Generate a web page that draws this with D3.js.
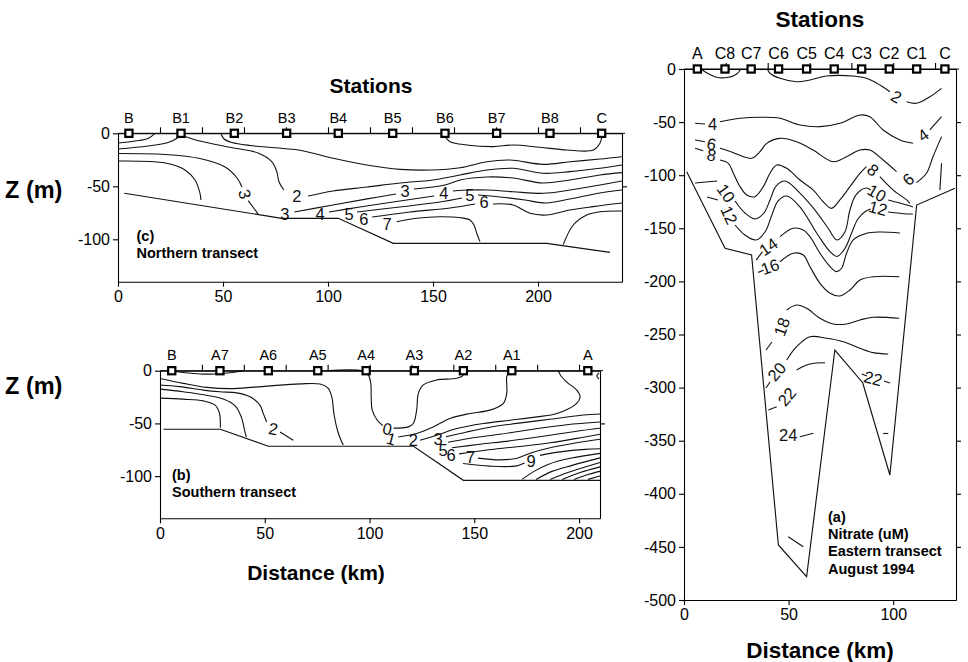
<!DOCTYPE html>
<html>
<head>
<meta charset="utf-8">
<script src="https://cdn.jsdelivr.net/npm/d3@7"></script>
<style>
  body { margin: 0; background: #fff; }
  svg { display: block; font-family: Arial, "Liberation Sans", sans-serif; }
</style>
</head>
<body>
<div id="chart"></div>
<script>
// ---- Panel (a): eastern transect, nitrate (uM), distance km / depth m
const stationsA = ["A", "C8", "C7", "C6", "C5", "C4", "C3", "C2", "C1", "C"];
const stationKmA = [6.4, 19.6, 32.1, 45.2, 58.6, 71.8, 84.9, 98.1, 111.2, 124.7];
const bottomA = [[1.3, -96.7], [19.6, -168.8], [32.3, -175.1], [45.1, -448.2], [58.6, -478.1],
  [72.1, -264.6], [85.4, -295.4], [98.4, -382.3], [111.2, -128.1], [129.5, -112.3]];
const contoursA = [
  [[8, 0], [10, -2.5], [15.6, -7.8], [21.2, -7.8], [25.2, -4.7], [27.2, 0]],
  [[39.8, 0], [41.1, -4], [45.9, -8.8], [53.8, -12], [60.2, -10.4], [68.1, -6.6], [80.8, -6.6], [87.2, -8.8], [93.6, -15.1], [98.4, -21.4]],
  [[106.4, -30.8], [111.1, -32.3], [117.5, -26.1], [123.1, -18.2]],
  [[5.3, -51.1], [10, -51.8]],
  [[17.2, -49.6], [26.8, -46.4], [36.3, -45.5], [45.9, -46.4], [55.4, -52.7], [65, -54.3], [74.5, -51.1], [84.1, -43.3], [88.8, -44.9], [95.2, -57.4], [103.2, -66.8], [109.5, -69.9]],
  [[117.5, -57.4], [123.1, -44.9]],
  [[5.3, -66.9], [10, -68.5]],
  [[17.2, -74.7], [23.6, -78.8], [28.4, -82.6], [32.4, -84.1], [36.3, -77.9], [39.5, -70], [45.9, -65.3], [53.8, -68.5], [61.7, -76.3], [71.3, -87.3], [77.7, -82.6], [84.1, -76.3], [88.8, -76.3], [95.2, -85.7], [101.6, -96.7]],
  [[111.1, -107], [115.9, -98.2], [119, -82.6], [123.1, -63.7]],
  [[5.3, -74.7], [9.2, -76.9]],
  [[17.2, -85.7], [21.2, -88.8], [23.6, -98.2], [26.8, -110.8], [30, -118.6], [33.9, -120.2], [37.9, -110.8], [41.1, -98.2], [44.3, -90.4], [49.1, -93.5], [55.4, -104.5], [61.7, -113.9], [66.5, -124.9], [70.5, -131.2], [74.5, -123.3], [79.3, -110.8], [84.1, -98.2], [87.2, -91.9]],
  [[93.6, -101.4], [100, -114], [106.4, -123.3], [108, -126.5]],
  [[5.3, -107.3], [15.8, -105.5]],
  [[24.4, -124.3], [29.1, -135.6], [33.9, -141.2], [38.2, -135.6], [41.1, -123.4], [44, -110.2], [48.3, -105.5], [55.4, -116.8], [62.6, -132.8], [68.8, -149.7], [73.1, -161], [76.9, -153.5], [79.3, -132.8], [82.2, -118.6], [87, -112.1], [89.3, -113.9]],
  [[97.6, -123.4], [106.5, -128.1], [109.4, -129.9]],
  [[11, -120.5], [16.2, -123.4]],
  [[24.4, -146.9], [29.1, -156.3], [34.4, -161], [38.7, -153.5], [42, -137.5], [44.9, -124.3], [49.2, -119.6], [55.4, -129.9], [64, -156.3], [69.8, -172], [73.1, -176.5], [76.9, -169], [80.3, -153.5], [83.1, -141.2], [87, -133.7], [89.3, -131.8]],
  [[97.6, -134.7], [106.5, -136.5], [109.4, -136.5]],
  [[34.5, -180], [37.5, -172]],
  [[45.9, -157.9], [52.2, -150], [57, -151.6], [60.2, -157.9], [65, -173.5], [69.8, -186.1], [73, -190.8], [75.3, -187.6], [77.7, -173.5], [80.9, -161], [87.3, -154.7], [93.6, -153.5], [103.2, -154.4]],
  [[35.5, -191.5], [38, -189.5]],
  [[45.9, -181.5], [52.2, -173.5], [57, -175.1], [60.2, -186.1], [65, -201.8], [69.8, -211.2], [74.5, -213.7], [79.3, -208.1], [84.1, -198.7], [90.4, -195.6], [102.9, -195.6]],
  [[39.2, -264.6], [42, -257.1]],
  [[49.1, -226.9], [53.8, -222.2], [58.6, -225.3], [65, -234.7], [71.3, -240.1], [77.7, -240.1], [84.1, -236.3], [90.4, -233.8], [102.9, -234.7]],
  [[39.2, -300.4], [41.1, -294.7]],
  [[49.1, -274], [53.8, -261.5], [60.2, -252.1], [68.2, -253.6], [76.1, -256.8], [84.1, -263], [90.4, -267.1], [97.6, -268.4]],
  [[40.3, -321.1], [44.3, -318]],
  [[53.8, -283.4], [60.2, -277.8], [67.4, -276.6]],
  [[85, -287.2], [87.4, -289.1]],
  [[95.6, -293.8], [98.5, -295.7]],
  [[55.4, -346.2], [61.8, -343]],
  [[95.2, -343.2], [97.6, -343.2]],
  [[49.8, -440.4], [57, -449.8]],
  [[123.1, -88.8], [122.3, -113.9]]
];
const labelsA = [["2", 101.6, -26.1], ["4", 13.7, -51.8], ["4", 114.3, -62.1], ["6", 13.2, -70.6],
  ["6", 107.1, -103.9], ["8", 13.2, -81], ["8", 90.4, -95.1], ["10", 20.1, -116.8], ["10", 92.2, -116.8],
  ["12", 21.6, -137.5], ["12", 92.7, -130.9], ["14", 40.3, -167.3], ["16", 41.1, -186.1], ["18", 46.7, -242.7],
  ["20", 44.3, -285], ["22", 49.1, -308.6], ["22", 90.4, -291.2], ["24", 49.8, -344.6]];
const depthTicksA = [0, -50, -100, -150, -200, -250, -300, -350, -400, -450, -500];
const distTicksA = [0, 50, 100];
const topTicksA = [20, 40, 60, 80, 100, 120];

// ---- Panel (b): southern transect
const stationsB = ["B", "A7", "A6", "A5", "A4", "A3", "A2", "A1", "A"];
const stationKmB = [5.6, 28.6, 51.7, 75.3, 98.4, 121.4, 144.8, 167.9, 204.2];
const bottomB = [[1.6, -55.5], [28.8, -55.5], [51.7, -71.7], [121, -71.7], [144.8, -104], [210, -104]];
const contoursB = [
  [[5.6, 0], [8, -1], [19.1, -3.1], [26.3, -3.1], [33.4, -1.9], [39.8, 0]],
  [[0, -7.4], [11.1, -12], [22.3, -15.8], [35, -17], [50.9, -14.6], [66.8, -12.5], [76.4, -12.7], [80.2, -16.5], [82, -24.8], [83, -40.6], [84.7, -56.5], [86.6, -67], [87.5, -70.5]],
  [[0, -13.5], [9.5, -15.1], [20.7, -18.4], [28.6, -20], [36.6, -21], [43, -24.8], [47.7, -32.7], [49.3, -40.7], [50.9, -48.7]],
  [[57.3, -58.1], [63.6, -66]],
  [[0, -17.5], [11, -20], [20, -22.5], [30.5, -27], [36, -33.5], [39, -45], [40.3, -56], [41.2, -63]],
  [[0, -26], [11, -27], [20.7, -28.6], [26.3, -32.7], [28.4, -40.6], [28.8, -54]],
  [[79.6, 0], [97, -0.3], [99.4, -4], [100.6, -12], [100.8, -24.8], [101.3, -37.4], [103.7, -47], [106.3, -52]],
  [[111.5, -54.5], [118.5, -53.3], [120.9, -50.1], [122.5, -37.4], [123.3, -21.5], [125.7, -13.5], [132, -8.8], [141.6, -7.2], [144.8, -4], [144.8, 0]],
  [[113.7, -62.9], [122.5, -59.6], [130.4, -53.3], [138.4, -45.3], [148, -40.6], [157.5, -37.4], [163.9, -31], [165.5, -21.5], [165.5, -5.7], [166.7, 0]],
  [[124.1, -66], [132.1, -61.2], [141.6, -54.9], [154.3, -50.1], [167.1, -47], [179.8, -43.8], [189.4, -40.6], [198.9, -31], [200.5, -24.8], [198.9, -18.4], [194.7, -11.7], [191.4, -5], [190.1, 0]],
  [[136.5, -62.7], [146.4, -58.1], [157.5, -53.6], [170.3, -50], [186.2, -46], [202.1, -42], [210, -41]],
  [[137.5, -67.9], [148, -64.1], [162.3, -60.3], [178, -55.5], [194.1, -51.2], [210, -48.6]],
  [[139.4, -73.1], [152.7, -69.8], [167.1, -66.5], [183, -62.2], [198.9, -57.4], [210, -54.6]],
  [[142.7, -78.9], [155.1, -75.5], [170.3, -72.2], [186.2, -68.4], [202.1, -63.1], [210, -60.3]],
  [[151.8, -82.9], [162.3, -84.6], [170.5, -83], [177, -78], [186.2, -73.1], [198.9, -68.4], [210, -65]],
  [[144.6, -88], [157.5, -90.5], [169.5, -90.5], [174, -87.5]],
  [[181.4, -80.3], [190.9, -77], [202.9, -74.6], [210, -74.1]],
  [[172.8, -103.1], [178.5, -95.5], [185.2, -88.9], [195.7, -83.1], [210, -78.4]],
  [[179.5, -103.1], [187.1, -95.5], [196.7, -89.8], [210, -82.7]],
  [[186.2, -103.1], [194.7, -96.5], [210, -87]],
  [[191.9, -103.1], [200.5, -96.5], [210, -91.2]],
  [[197.6, -103.1], [204.3, -98.4], [210, -95.5]],
  [[204.3, -103.1], [210, -99.8]],
  [[209.5, -2], [208.5, -5], [209.5, -8]]
];
const labelsB = [["2", 54.1, -54.9], ["0", 108.5, -54.9], ["1", 110.3, -64.6], ["2", 120.9, -66],
  ["3", 132.7, -65], ["5", 135.1, -75], ["6", 138.9, -80.3], ["7", 148.2, -81.9], ["9", 177.1, -85.5]];
const depthTicksB = [0, -50, -100];
const distTicksB = [0, 50, 100, 150, 200];
const topTicksB = [20, 40, 60, 80, 100, 120, 140, 160, 180, 200];

// ---- Panel (c): northern transect
const stationsC = ["B", "B1", "B2", "B3", "B4", "B5", "B6", "B7", "B8", "C"];
const stationKmC = [5.2, 30, 55.4, 80.3, 104.9, 130.8, 155.7, 180.3, 205.7, 230.3];
const bottomC = [[3, -56.6], [78, -80.2], [104.9, -80.2], [131.1, -103.8], [204.1, -103.8], [234.3, -112.3]];
const contoursC = [
  [[0, -9.2], [8.1, -7.3], [14.3, -4.9], [17.6, 0]],
  [[0, -14.8], [14.3, -12], [23.8, -8.7], [28.6, -4], [30, -0.7]],
  [[0, -19.1], [22.4, -20], [39, -23.8], [51, -31.8], [56.7, -42.2], [59, -50.7]],
  [[62, -63.5], [66.7, -76]],
  [[0, -26.1], [15.2, -26.6], [24.8, -29], [31.9, -34.6], [36.7, -44], [39, -56.3], [39.5, -62.9]],
  [[49, 0], [50.5, -5.4], [54.3, -8.7], [62.9, -11.5], [74.8, -13.7], [86.7, -16], [102.5, -23.6], [118.4, -29.9], [134.3, -34], [149.2, -34.6], [162.9, -32.5], [175.6, -26.8], [186.7, -25.2], [202.5, -29.3], [215.2, -26.8], [229.5, -24.3], [239.9, -22.1]],
  [[155.7, -3.2], [158.1, -7.9], [166, -11], [178.7, -12.6], [188.2, -11], [200.9, -13.2], [213.7, -15.8], [226.3, -15.8], [229.5, -9.4], [230.5, -2.5]],
  [[31, -2.5], [39, -7.3], [52.4, -12.9], [66.7, -18.6], [73.2, -26.8], [75.6, -36.2], [76.7, -45.9], [79, -53.5]],
  [[90.5, -59.2], [102.4, -54.4], [118.6, -50.7], [134.3, -46.9], [150, -44], [162.9, -39.3], [175.7, -34.6], [188.1, -33], [202.4, -37.7], [215.2, -36.2], [229.5, -33], [240, -29.9]],
  [[84, -74.2], [102.4, -67.6], [118.6, -61.9], [132.4, -57.3]],
  [[140.9, -52.5], [155.7, -48.8], [162.9, -44], [175.7, -41.2], [188.1, -42.2], [202.4, -46.9], [215.2, -44], [229.5, -39.3], [240, -37.1]],
  [[100.5, -74.2], [115.2, -69.5], [134.3, -63.9], [150.5, -59.2]],
  [[159.5, -54.4], [167.6, -53.5], [175.7, -53.5], [188.1, -55.1], [202.4, -56.6], [215.2, -53.5], [229.5, -48.8], [240, -45]],
  [[113.8, -74.2], [134.3, -69.5], [153.3, -64.8], [163.8, -61]],
  [[171.4, -58.2], [181.9, -60.1], [193.8, -62.9], [203.8, -65.8], [215.2, -62], [229.5, -56.3], [240, -53.5]],
  [[121, -79], [139, -74.2], [158.1, -70.5], [170, -66.7]],
  [[178.6, -66.7], [188.1, -67.6], [196.2, -75.5], [204.1, -77.1], [215.2, -72.4], [226.2, -69.2], [240, -65.8]],
  [[132.7, -83.4], [142.2, -80.2], [153.3, -78.7], [162.9, -79.6], [167.6, -81.8], [169.5, -86.5], [171.1, -95.9], [172.4, -102.2]],
  [[212, -105], [216.8, -86.5], [223.2, -77.1], [229.5, -74], [239.9, -73.3]]
];
const labelsC = [["3", 60.5, -57.3], ["2", 85.2, -59.2], ["3", 79.5, -76.1], ["4", 96.2, -76.1],
  ["5", 110, -76.1], ["6", 117.1, -80.8], ["7", 128.1, -85.6], ["3", 136.7, -54.4], ["4", 155.2, -56.3],
  ["5", 167.6, -58.2], ["6", 174.3, -64.8]];
const depthTicksC = [0, -50, -100];
const distTicksC = [0, 50, 100, 150, 200];
const topTicksC = [20, 40, 60, 80, 100, 120, 140, 160, 180, 200, 220];

// ---- drawing
const svg = d3.select("#chart").append("svg")
    .attr("width", 968)
    .attr("height", 662);

const ink = "#111";

function drawPanel(p) {
  const x = d3.scaleLinear(p.xDomain, p.xRange);
  const y = d3.scaleLinear(p.yDomain, p.yRange);
  const g = svg.append("g");

  const smooth = d3.line().x(d => x(d[0])).y(d => y(d[1])).curve(d3.curveCatmullRom.alpha(0.5));
  const straight = d3.line().x(d => x(d[0])).y(d => y(d[1]));

  // isolines
  g.append("g")
      .attr("fill", "none")
      .attr("stroke", ink)
      .attr("stroke-width", 1.1)
    .selectAll("path")
    .data(p.contours)
    .join("path")
      .attr("d", smooth);

  // sea floor
  g.append("path")
      .datum(p.bottom)
      .attr("fill", "none")
      .attr("stroke", ink)
      .attr("stroke-width", 1.15)
      .attr("d", straight);

  // contour values
  g.append("g")
      .attr("fill", ink)
      .attr("font-size", 16.5)
      .attr("text-anchor", "middle")
    .selectAll("text")
    .data(p.labels)
    .join("text")
      .attr("transform", (d, i) => `translate(${x(d[1])},${y(d[2])}) rotate(${p.tilts[i]})`)
      .attr("dy", "0.36em")
      .text(d => d[0]);

  const y0 = y(0), xL = p.xRange[0], xR = p.xRange[1], yB = p.yRange[0];

  const left = g.append("g")
      .attr("transform", `translate(${xL},0)`)
      .call(d3.axisLeft(y).tickValues(p.depthTicks).tickFormat(d => String(d)).tickSize(5).tickPadding(3).tickSizeOuter(0));
  const bottom = g.append("g")
      .attr("transform", `translate(0,${yB})`)
      .call(d3.axisBottom(x).tickValues(p.distTicks).tickFormat(d => String(d)).tickSize(5).tickPadding(4).tickSizeOuter(0));
  g.append("g")
      .attr("transform", `translate(${xR},0)`)
      .call(d3.axisRight(y).tickValues(p.depthTicks.slice(1, -1)).tickFormat("").tickSize(5).tickSizeOuter(0));
  g.append("g")
      .attr("transform", `translate(0,${y0})`)
      .call(d3.axisTop(x).tickValues(p.topTicks).tickFormat("").tickSize(6).tickSizeOuter(0));
  g.append("line")
      .attr("x1", xL).attr("x2", xR + 3)
      .attr("y1", y0).attr("y2", y0)
      .attr("stroke", "#000");
  [left, bottom].forEach(a => a.attr("font-size", 16).attr("font-family", null));
  g.selectAll(".domain, .tick line").attr("stroke-width", 1.1);

  // stations on the surface
  const st = g.append("g")
    .selectAll("g")
    .data(p.stations)
    .join("g")
      .attr("transform", (d, i) => `translate(${x(p.stationKm[i])},${y0})`);
  st.append("rect")
      .attr("x", -3.6).attr("y", -3.6)
      .attr("width", 7.2).attr("height", 7.2)
      .attr("fill", "#fff")
      .attr("stroke", "#000")
      .attr("stroke-width", 2.2);
  st.append("text")
      .attr("y", -10.5)
      .attr("text-anchor", "middle")
      .attr("font-size", p.stationSize)
      .text(d => d);
}

drawPanel({
  xDomain: [0, 130], xRange: [684, 956], yDomain: [-500, 0], yRange: [600, 69],
  stations: stationsA, stationKm: stationKmA, bottom: bottomA, contours: contoursA, labels: labelsA,
  tilts: [30, 0, -35, 10, -40, 10, 40, 55, 30, 65, 15, -35, -20, -70, -50, -50, 15, 0],
  depthTicks: depthTicksA, distTicks: distTicksA, topTicks: topTicksA, stationSize: 16
});
drawPanel({
  xDomain: [0, 210], xRange: [160, 600], yDomain: [-140, 0], yRange: [518.3, 370.7],
  stations: stationsB, stationKm: stationKmB, bottom: bottomB, contours: contoursB, labels: labelsB,
  tilts: [10, 10, 15, 0, 0, 0, 0, 0, 0],
  depthTicks: depthTicksB, distTicks: distTicksB, topTicks: topTicksB, stationSize: 14.5
});
drawPanel({
  xDomain: [0, 240], xRange: [118, 622], yDomain: [-140, 0], yRange: [281.7, 133.3],
  stations: stationsC, stationKm: stationKmC, bottom: bottomC, contours: contoursC, labels: labelsC,
  tilts: [75, 0, 0, 0, 0, 0, 0, 0, 0, 0, 0],
  depthTicks: depthTicksC, distTicks: distTicksC, topTicks: topTicksC, stationSize: 14.5
});

// titles and notes
function label(txt, x, y, size, anchor) {
  svg.append("text")
      .attr("x", x).attr("y", y)
      .attr("font-size", size)
      .attr("font-weight", "bold")
      .attr("text-anchor", anchor || "start")
      .attr("fill", "#000")
      .text(txt);
}
label("Stations", 820, 27, 22.5, "middle");
label("Stations", 371, 92.5, 21, "middle");
label("Z (m)", 5, 198, 23.5);
label("Z (m)", 5, 394, 23.5);
label("Distance (km)", 316, 579.5, 21, "middle");
label("Distance (km)", 820, 658, 22.5, "middle");

label("(c)", 136.5, 241, 14.5);
label("Northern transect", 136.5, 258, 14.5);
label("(b)", 172, 480, 14.5);
label("Southern transect", 172, 497, 14.5);
label("(a)", 828, 522, 14.5);
label("Nitrate (uM)", 828, 539, 14.5);
label("Eastern transect", 828, 556, 14.5);
label("August 1994", 828, 573.5, 14.5);
</script>
</body>
</html>
